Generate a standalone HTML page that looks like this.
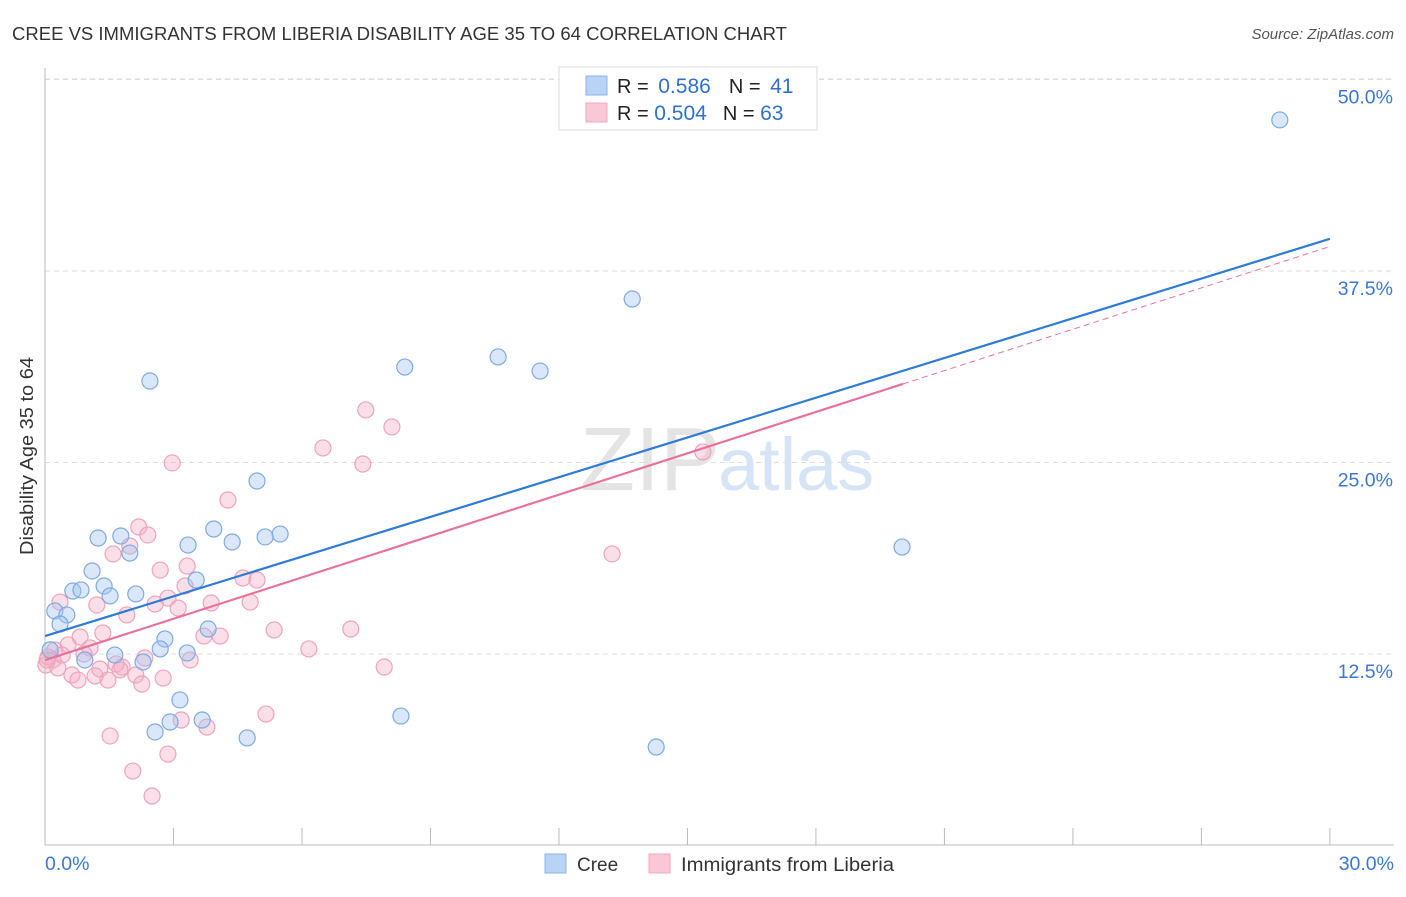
<!DOCTYPE html>
<html><head><meta charset="utf-8"><style>
body{margin:0;background:#fff;font-family:"Liberation Sans",sans-serif;}
svg text{font-family:"Liberation Sans",sans-serif;}
</style></head><body>
<svg id="chart" width="1406" height="892" xmlns="http://www.w3.org/2000/svg">
<text x="12" y="40" font-size="18" fill="#333" textLength="775" lengthAdjust="spacingAndGlyphs">CREE VS IMMIGRANTS FROM LIBERIA DISABILITY AGE 35 TO 64 CORRELATION CHART</text>
<text x="1394" y="39" font-size="15" fill="#555" font-style="italic" text-anchor="end">Source: ZipAtlas.com</text>
<text transform="translate(33,456) rotate(-90)" font-size="18" fill="#333" text-anchor="middle" textLength="198" lengthAdjust="spacingAndGlyphs">Disability Age 35 to 64</text>
<g id="grid"></g>
<text x="720" y="490" font-size="90" fill="#e4e4e4" font-family="Liberation Serif" text-anchor="end">ZIP</text>
<text x="718" y="490" font-size="74" fill="#d6e4f5">atlas</text>
<g id="pts"></g>
<g id="lines"></g>
<g>
<rect x="559" y="67" width="258" height="63" fill="#fff" stroke="#ddd"/>
<rect x="586" y="76" width="21" height="19" fill="#b8d3f5" stroke="#8ab4e8"/>
<rect x="586" y="103" width="21" height="19" fill="#f9c7d6" stroke="#f0a8bf"/>
<text x="617" y="93" font-size="20" fill="#222">R = <tspan fill="#2f6fd0" dx="4" font-size="21">0.586</tspan><tspan dx="18">N = </tspan><tspan fill="#2f6fd0" dx="4" font-size="21">41</tspan></text>
<text x="617" y="120" font-size="20" fill="#222">R = <tspan fill="#2f6fd0" font-size="21">0.504</tspan><tspan dx="16">N = </tspan><tspan fill="#2f6fd0" font-size="21">63</tspan></text>
</g>
<g>
<rect x="545" y="854" width="21" height="19" fill="#b8d3f5" stroke="#8ab4e8"/>
<text x="577" y="871" font-size="19" fill="#333">Cree</text>
<rect x="649" y="854" width="21" height="19" fill="#f9c7d6" stroke="#f0a8bf"/>
<text x="681" y="871" font-size="19" fill="#333" textLength="213" lengthAdjust="spacingAndGlyphs">Immigrants from Liberia</text>
</g>
</svg>
<script>
const yTicks=[12.5,25,37.5,50];
const yTickLabels=["12.5%","25.0%","37.5%","50.0%"];
const xTicks=[0,3,6,9,12,15,18,21,24,27,30];
const xEndLabels=["0.0%","30.0%"];
const creeX=[28.83,13.71,8.40,10.58,11.56,2.45,4.95,3.94,5.14,5.49,4.37,3.34,1.77,1.24,1.98,1.10,0.65,0.84,1.38,1.52,2.12,3.53,0.23,0.51,0.35,2.80,3.81,2.69,3.32,1.63,0.93,2.29,3.15,2.92,2.57,3.67,4.72,8.31,14.27,20.01,0.12];
const creeY=[47.36,35.67,31.23,31.89,30.97,30.32,23.79,20.66,20.14,20.33,19.81,19.61,20.20,20.07,19.09,17.92,16.61,16.68,16.94,16.29,16.42,17.33,15.31,15.05,14.46,13.48,14.13,12.83,12.57,12.43,12.11,11.98,9.50,8.06,7.41,8.19,7.02,8.45,6.43,19.48,12.77];
const libX=[15.36,7.49,8.10,6.49,7.42,2.97,4.27,2.19,2.40,1.98,1.59,13.24,2.69,3.32,4.62,4.95,3.27,2.87,2.57,3.11,3.88,4.79,1.21,0.35,1.91,1.35,0.82,4.09,5.35,7.14,3.71,6.16,0.54,1.05,0.23,0.07,0.91,3.39,2.33,1.66,1.80,1.28,0.63,0.77,2.12,2.76,1.47,2.26,7.92,0.19,0.02,0.30,5.16,3.18,3.78,1.52,2.87,2.05,2.50,1.17,1.75,0.40,0.05];
const libY=[25.69,28.43,27.32,25.95,24.90,24.97,22.55,20.79,20.27,19.55,19.03,19.03,17.98,18.24,17.46,17.33,16.94,16.15,15.76,15.50,15.83,15.89,15.70,15.89,15.05,13.87,13.61,13.67,14.07,14.13,13.67,12.83,13.09,12.89,12.76,12.30,12.50,12.11,12.24,11.85,11.65,11.52,11.13,10.80,11.13,10.93,10.80,10.54,11.65,12.11,11.78,11.59,8.58,8.19,7.73,7.15,5.97,4.86,3.23,11.07,11.46,12.43,12.11];
const creeTrend=[13.67,39.6]; // value at x=0 and x=30
const libTrend=[12.1,0.9]; // intercept, slope
const libSolidEnd=20.03;
const NS="http://www.w3.org/2000/svg";
const X=v=>45+v*42.83, Y=v=>845.5-v*15.32;
function mk(tag,attrs,parent){const e=document.createElementNS(NS,tag);for(const k in attrs)e.setAttribute(k,attrs[k]);parent.appendChild(e);return e;}
const grid=document.getElementById('grid'),svg=document.getElementById('chart');
mk('line',{x1:45,y1:79,x2:1394,y2:79,stroke:'#ddd','stroke-dasharray':'5,4'},grid);
yTicks.forEach((t,i)=>{
 const l=mk('line',{x1:45,y1:Y(t),x2:1394,y2:Y(t),stroke:'#ddd','stroke-dasharray':'5,4'},grid);
 
 
 const tx=mk('text',{x:1393,y:Y(t)+24,'font-size':19.5,fill:'#3a78d4','text-anchor':'end'},grid);
 tx.textContent=yTickLabels[i];
 
 
});
mk('line',{x1:45,y1:68,x2:45,y2:845,stroke:'#bbb'},grid);
mk('line',{x1:45,y1:845,x2:1394,y2:845,stroke:'#bbb'},grid);
xTicks.forEach(t=>{
 const l=mk('line',{x1:X(t),y1:828,x2:X(t),y2:845,stroke:'#bbb'},grid);
 
 
});
[[0,'start',45],[30,'end',1394]].forEach((a,i)=>{
 const tx=mk('text',{x:a[2],y:870,'font-size':19.5,fill:'#3a78d4','text-anchor':a[1]},grid);
 tx.textContent=xEndLabels[i];
 
 
});
const pts=document.getElementById('pts');
libX.forEach((x,i)=>{
 const c=mk('circle',{cx:X(x),cy:Y(libY[i]),r:8,fill:'rgba(245,175,198,0.4)',stroke:'#eea3bb','stroke-width':1.2},pts);
 
 
});
creeX.forEach((x,i)=>{
 const c=mk('circle',{cx:X(x),cy:Y(creeY[i]),r:8,fill:'rgba(160,196,240,0.4)',stroke:'#7eaae2','stroke-width':1.2},pts);
 
 
});
const lines=document.getElementById('lines');
const lf=x=>libTrend[0]+libTrend[1]*x;
let d=mk('line',{x1:X(libSolidEnd),y1:Y(lf(libSolidEnd)),x2:X(30),y2:Y(lf(30)),stroke:'#e8739a','stroke-width':1,'stroke-dasharray':'6,4'},lines);


d=mk('line',{x1:X(0),y1:Y(lf(0)),x2:X(libSolidEnd),y2:Y(lf(libSolidEnd)),stroke:'#e8739a','stroke-width':2.2},lines);


d=mk('line',{x1:X(0),y1:Y(creeTrend[0]),x2:X(30),y2:Y(creeTrend[1]),stroke:'#2f7bd6','stroke-width':2.2},lines);


</script>
</body></html>
